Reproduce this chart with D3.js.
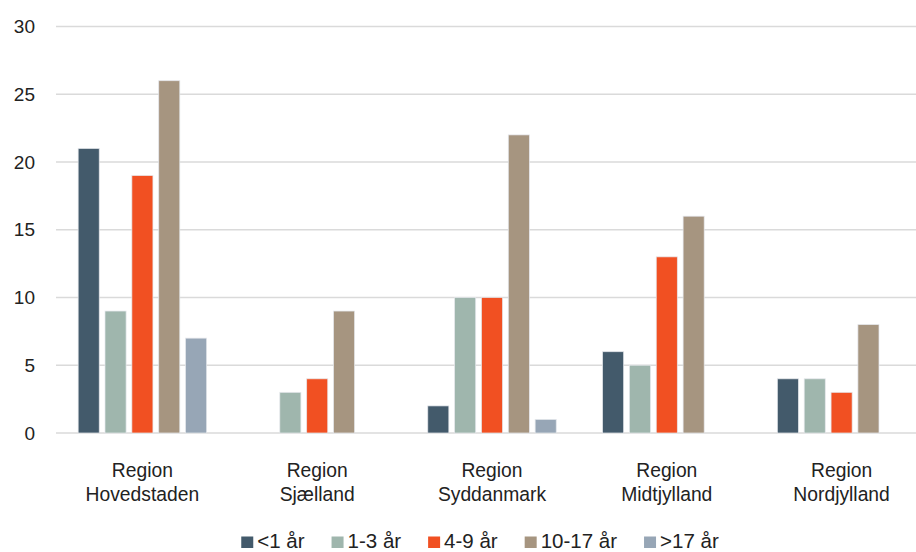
<!DOCTYPE html>
<html>
<head>
<meta charset="utf-8">
<script src="https://cdn.jsdelivr.net/npm/d3@7"></script>
<style>
  html, body { margin: 0; padding: 0; background: #fff; }
  svg { display: block; font-family: "Liberation Sans", Arial, Helvetica, sans-serif; }
</style>
</head>
<body>
<svg id="chart" width="916" height="552"></svg>
<script>
// Regions (two-line category labels)
const regions = [
  ["Region", "Hovedstaden"],
  ["Region", "Sjælland"],
  ["Region", "Syddanmark"],
  ["Region", "Midtjylland"],
  ["Region", "Nordjylland"]
];

// Age groups (series)
const ageGroups = ["<1 år", "1-3 år", "4-9 år", "10-17 år", ">17 år"];
const ageColors = ["#435a6b", "#9fb6ad", "#f15022", "#a69580", "#97a6b6"];

// Values per age group, one entry per region
const lessThan1 = [21, 0, 2, 6, 4];
const age1to3   = [9, 3, 10, 5, 4];
const age4to9   = [19, 4, 10, 13, 3];
const age10to17 = [26, 9, 22, 16, 8];
const over17    = [7, 0, 1, 0, 0];

const yTicks = [0, 5, 10, 15, 20, 25, 30];

const seriesValues = [lessThan1, age1to3, age4to9, age10to17, over17];

const svg = d3.select("#chart");
const plot = { left: 55, right: 929, top: 26.5, bottom: 433 };

const x0 = d3.scaleBand()
  .domain(d3.range(regions.length))
  .range([plot.left, plot.right])
  .paddingInner(0.265)
  .paddingOuter(0.1325);

const x1 = d3.scaleBand()
  .domain(d3.range(ageGroups.length))
  .range([0, x0.bandwidth()])
  .paddingInner(0.215)
  .paddingOuter(0);

const y = d3.scaleLinear().domain([0, 30]).range([plot.bottom, plot.top]);

// Gridlines
svg.append("g")
  .selectAll("line")
  .data(yTicks)
  .join("line")
  .attr("x1", 56)
  .attr("x2", 916)
  .attr("y1", d => y(d))
  .attr("y2", d => y(d))
  .attr("stroke", "#dadada")
  .attr("stroke-width", 1.4);

// Y axis labels
const yAxis = d3.axisLeft(y).tickValues(yTicks).tickSize(0).tickPadding(0);
const yg = svg.append("g").attr("transform", "translate(35,0)").call(yAxis);
yg.select(".domain").remove();
yg.selectAll("text")
  .attr("font-size", 19)
  .attr("fill", "#222")
  .attr("font-family", "Liberation Sans, Arial, sans-serif");

// Bars
const rows = [];
regions.forEach((r, ri) => {
  seriesValues.forEach((vals, si) => {
    rows.push({ ri, si, v: vals[ri] });
  });
});

svg.append("g")
  .selectAll("rect")
  .data(rows.filter(d => d.v > 0))
  .join("rect")
  .attr("x", d => x0(d.ri) + x1(d.si))
  .attr("width", x1.bandwidth())
  .attr("y", d => y(d.v))
  .attr("height", d => y(0) - y(d.v))
  .attr("fill", d => ageColors[d.si])
  .attr("stroke", "rgba(230,232,236,0.9)")
  .attr("stroke-width", 0.8);

// Category labels
const catG = svg.append("g");
regions.forEach((lines, i) => {
  const cx = x0(i) + x0.bandwidth() / 2;
  const t = catG.append("text")
    .attr("text-anchor", "middle")
    .attr("font-size", 19.3)
    .attr("fill", "#222");
  lines.forEach((ln, k) => {
    t.append("tspan").attr("x", cx).attr("y", 477 + k * 24).text(ln);
  });
});

// Legend
const legend = svg.append("g");
const items = ageGroups.map((name, i) => {
  const g = legend.append("g");
  g.append("rect")
    .attr("width", 12).attr("height", 11.5)
    .attr("y", 536.5)
    .attr("fill", ageColors[i]);
  const t = g.append("text")
    .attr("x", 16)
    .attr("y", 547.5)
    .attr("font-size", 20.5)
    .attr("fill", "#222")
    .text(name);
  return { g, w: 16 + t.node().getComputedTextLength() };
});
const gap = 27;
const total = d3.sum(items, d => d.w) + gap * (items.length - 1);
let lx = 480 - total / 2;
items.forEach(it => {
  it.g.attr("transform", `translate(${lx},0)`);
  lx += it.w + gap;
});
</script>
</body>
</html>
